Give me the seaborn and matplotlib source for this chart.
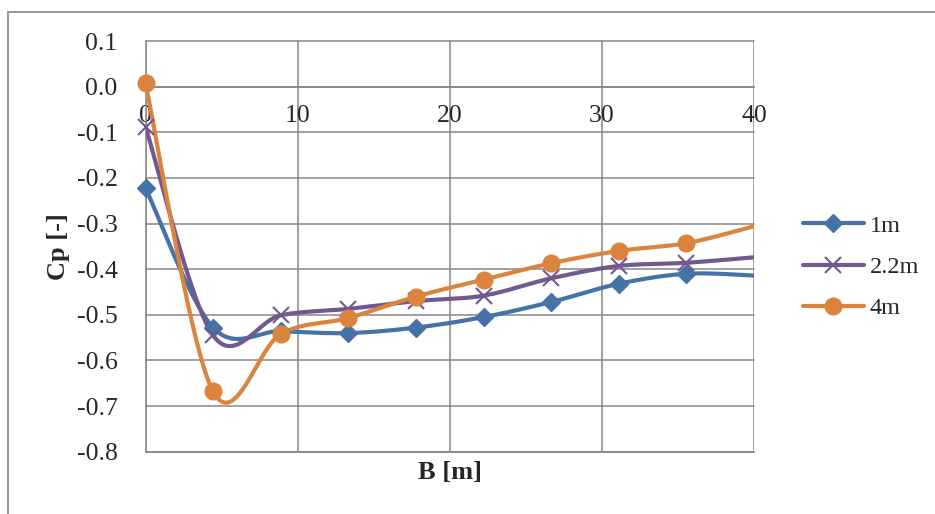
import numpy as np
import pandas as pd
import seaborn as sns
import matplotlib.pyplot as plt
from matplotlib.lines import Line2D
from matplotlib.patches import Rectangle

# distance along B [m] and pressure coefficients per height
b_values = [0, 4.44, 8.89, 13.33, 17.78, 22.22, 26.67, 31.11, 35.56, 40]
cp_1m = [-0.222, -0.528, -0.536, -0.540, -0.528, -0.505, -0.472, -0.432, -0.410, -0.414]
cp_2_2m = [-0.088, -0.545, -0.501, -0.487, -0.470, -0.458, -0.420, -0.393, -0.386, -0.374]
cp_4m = [0.007, -0.668, -0.542, -0.507, -0.460, -0.423, -0.387, -0.360, -0.343, -0.306]

series_names = ["1m", "2.2m", "4m"]
series_colors = ["#4572A7", "#71588F", "#DB843D"]
series_markers = ["D", "x", "o"]
y_ticks = [0.1, 0.0, -0.1, -0.2, -0.3, -0.4, -0.5, -0.6, -0.7, -0.8]
x_ticks = [0, 10, 20, 30, 40]


def smooth_curve(xs, ys, steps=40):
    """Excel-like smoothed line (Bezier through the points)."""
    pts = np.column_stack([xs, ys]).astype(float)
    padded = np.vstack([pts[0], pts, pts[-1]])
    t = np.linspace(0, 1, steps)[:, None]
    out = []
    for i in range(len(pts) - 1):
        p0, p1, p2, p3 = padded[i], padded[i + 1], padded[i + 2], padded[i + 3]
        c1 = p1 + (p2 - p0) / 6
        c2 = p2 - (p3 - p1) / 6
        seg = ((1 - t) ** 3 * p1 + 3 * (1 - t) ** 2 * t * c1
               + 3 * (1 - t) * t ** 2 * c2 + t ** 3 * p2)
        out.append(seg if i == 0 else seg[1:])
    return np.vstack(out)


def marker_style(marker):
    if marker == "x":
        return dict(marker="x", markersize=11, markeredgewidth=1.5)
    if marker == "D":
        return dict(marker="D", markersize=9)
    return dict(marker="o", markersize=12)


def main():
    sns.set_style("white")
    plt.rcParams["font.family"] = ["Liberation Serif", "DejaVu Serif"]

    fig = plt.figure(figsize=(9.35, 5.14), dpi=100)
    # chart area border
    fig.patches.append(Rectangle((8 / 935, -0.1), 1.2, 1 - 12 / 514 + 0.1,
                                 transform=fig.transFigure, fill=False,
                                 edgecolor="#868686", linewidth=1.2))
    ax = fig.add_axes([145.5 / 935, 1 - 451.7 / 514, 608.5 / 935, 410.7 / 514])

    all_cp = [cp_1m, cp_2_2m, cp_4m]
    frames = []
    for name, cp in zip(series_names, all_cp):
        curve = smooth_curve(b_values, cp)
        frames.append(pd.DataFrame({"B": curve[:, 0], "Cp": curve[:, 1], "series": name}))
    df = pd.concat(frames, ignore_index=True)

    # smoothed lines
    sns.lineplot(data=df, x="B", y="Cp", hue="series", hue_order=series_names,
                 palette=series_colors, sort=False, estimator=None,
                 linewidth=3, ax=ax, legend=False, zorder=3)

    # markers on the measured points (last point sits on the axis edge, no marker)
    for cp, color, marker in zip(all_cp, series_colors, series_markers):
        ax.plot(b_values[:-1], cp[:-1], linestyle="none", color=color,
                markeredgecolor=color, zorder=4, clip_on=False, **marker_style(marker))

    ax.set_xlim(0, 40)
    ax.set_ylim(-0.8, 0.1)
    ax.set_xticks(x_ticks)
    ax.set_yticks(y_ticks)
    ax.set_yticklabels([f"{v:.1f}" for v in y_ticks])
    ax.grid(True, color="#868686", linewidth=1.1)
    for gl in ax.get_xgridlines() + ax.get_ygridlines():
        gl.set_clip_on(False)
    # bottom edge of plot area
    ax.axhline(ax.get_ylim()[0], color="#868686", linewidth=1.1, clip_on=False, zorder=1)
    ax.set_axisbelow(True)
    for side in ["top", "right"]:
        ax.spines[side].set_visible(False)
    ax.spines["left"].set_color("#868686")
    ax.spines["left"].set_linewidth(1.1)
    ax.spines["bottom"].set_position(("data", 0))
    ax.spines["bottom"].set_color("#868686")
    ax.spines["bottom"].set_linewidth(1.1)
    ax.tick_params(axis="both", length=0, labelsize=18.5)
    ax.tick_params(axis="y", pad=20)
    ax.tick_params(axis="x", pad=13)

    ax.set_xlabel("")
    ax.set_ylabel("")
    fig.text(450 / 935, 1 - 473 / 514, "B [m]", fontsize=19, fontweight="bold",
             ha="center", va="center")
    fig.text(58 / 935, 1 - 247 / 514, "Cp [-]", fontsize=19, fontweight="bold",
             ha="center", va="center", rotation=90)

    handles = [Line2D([], [], color=c, linewidth=3, **marker_style(m))
               for c, m in zip(series_colors, series_markers)]
    fig.legend(handles, series_names, loc="center left",
               bbox_to_anchor=(803 / 935, 1 - 267 / 514), frameon=False,
               fontsize=17.5, handlelength=2.5, handletextpad=0.25,
               labelspacing=0.8, borderpad=0, borderaxespad=0)

    fig.savefig("out.png", dpi=100)


if __name__ == "__main__":
    main()
